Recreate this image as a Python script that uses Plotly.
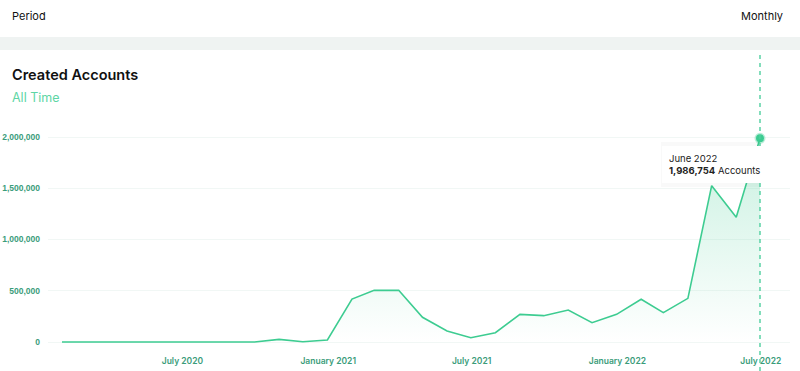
import pandas as pd
import plotly.graph_objects as go

# ---- data ----
months = pd.date_range("2020-01-01", "2022-06-01", freq="MS")
month_labels = [d.strftime("%B %Y") for d in months]
accounts = [0, 0, 0, 0, 0, 0, 0, 0, 0, 26000, 3000, 20000,
            419000, 504000, 504000, 241000, 107000, 42000, 91000, 270000,
            257000, 312000, 188000, 270000, 417000, 286000, 426000, 1525000,
            1217000, 1986754]
tick_dates = ["2020-07-01", "2021-01-01", "2021-07-01", "2022-01-01", "2022-07-01"]
tick_labels = ["July 2020", "January 2021", "July 2021", "January 2022", "July 2022"]
y_ticks = [0, 500000, 1000000, 1500000, 2000000]
y_tick_labels = ["0", "500,000", "1,000,000", "1,500,000", "2,000,000"]

# points are plotted at end of month
x_dates = [d + pd.offsets.MonthEnd(0) for d in months]

GREEN = "#3dcc91"
TICK = "#3a9c7a"
FONT = "Inter"

fig = go.Figure()
fig.add_trace(go.Scatter(
    x=x_dates, y=accounts, mode="lines",
    line=dict(color=GREEN, width=1.6),
    fill="tozeroy",
    fillgradient=dict(type="vertical",
                      colorscale=[[0, "rgba(61,204,145,0.0)"], [1, "rgba(61,204,145,0.28)"]]),
    customdata=month_labels,
    hovertemplate="%{customdata}<br>%{y:,} Accounts<extra></extra>",
    cliponaxis=False, showlegend=False,
))
fig.add_trace(go.Scatter(
    x=[x_dates[-1]], y=[accounts[-1]], mode="markers",
    marker=dict(color=GREEN, size=8, line=dict(color="rgba(61,204,145,0.35)", width=3)),
    cliponaxis=False, showlegend=False, hoverinfo="skip",
))

# plot area in pixels: left 48, right 790, top 110, bottom 345
W, H = 800, 371
L, R, T, B = 48, 790, 110, 345
pw, ph = R - L, B - T

def px(xp):
    return (xp - L) / pw

def py(yp):
    return (B - yp) / ph

shapes = [
    dict(type="rect", xref="paper", yref="paper", x0=px(0), x1=px(W), y0=py(37), y1=py(0),
         fillcolor="white", line=dict(width=0), layer="below"),
    dict(type="rect", xref="paper", yref="paper", x0=px(0), x1=px(W), y0=py(50), y1=py(37),
         fillcolor="#eff3f2", line=dict(width=0), layer="below"),
    # soft shadow for tooltip
    dict(type="rect", xref="paper", yref="paper", x0=px(661), x1=px(761), y0=py(187), y1=py(142),
         fillcolor="rgba(0,0,0,0.025)", line=dict(width=0), layer="above"),
    dict(type="line", xref="x", yref="paper", x0=x_dates[-1], x1=x_dates[-1],
         y0=py(371), y1=py(52), line=dict(color="#4fcf9f", width=1.4, dash="4px,4px")),
]

annotations = [
    dict(text="Period", xref="paper", yref="paper", x=px(10), y=py(16), xanchor="left",
         yanchor="middle", showarrow=False, font=dict(family=FONT, size=11, color="#111")),
    dict(text="Monthly", xref="paper", yref="paper", x=px(785), y=py(16), xanchor="right",
         yanchor="middle", showarrow=False, font=dict(family=FONT, size=11, color="#111")),
    dict(text="Created Accounts", xref="paper", yref="paper", x=px(10), y=py(75),
         xanchor="left", yanchor="middle", showarrow=False,
         font=dict(family=FONT, size=14.5, color="#111", weight=600)),
    dict(text="All Time", xref="paper", yref="paper", x=px(10), y=py(97), xanchor="left",
         yanchor="middle", showarrow=False, font=dict(family=FONT, size=12.5, color="#5ed6a5")),
    dict(text="June 2022<br><b>1,986,754</b> Accounts", xref="paper", yref="paper",
         x=px(662), y=py(164), xanchor="left", yanchor="middle", align="left",
         showarrow=False, bgcolor="white", bordercolor="white", borderwidth=1, borderpad=6,
         font=dict(family=FONT, size=9.5, color="#222")),
]

ymin = -(B - 342) * 2e6 / 205
ymax = 2e6 + (137 - T) * 2e6 / 205
x0 = pd.Timestamp("2020-01-31") - pd.Timedelta(days=14 / 0.7923)
x1 = pd.Timestamp("2022-06-30") + pd.Timedelta(days=30 / 0.7923)

fig.update_layout(
    width=W, height=H,
    margin=dict(l=L, r=W - R, t=T, b=H - B, pad=0, autoexpand=False),
    paper_bgcolor="white", plot_bgcolor="white",
    font=dict(family=FONT),
    shapes=shapes, annotations=annotations,
    xaxis=dict(range=[x0, x1], tickvals=tick_dates, ticktext=tick_labels,
               showgrid=False, zeroline=False, showline=False, ticks="",
               ticklabelstandoff=9, automargin=False,
               tickfont=dict(family=FONT, size=8.5, color=TICK, weight=600)),
    yaxis=dict(range=[ymin, ymax], tickvals=y_ticks, ticktext=y_tick_labels,
               showgrid=True, gridcolor="#f1f7f5", gridwidth=1, zeroline=False,
               showline=False, ticks="", ticklabelstandoff=7, automargin=False,
               tickfont=dict(family="Liberation Sans", size=8.5, color=TICK, weight=700)),
    showlegend=False,
)

fig.write_html("out.html", config={"displayModeBar": False},
               post_script="document.body.style.margin='0';document.body.style.overflow='hidden';")
